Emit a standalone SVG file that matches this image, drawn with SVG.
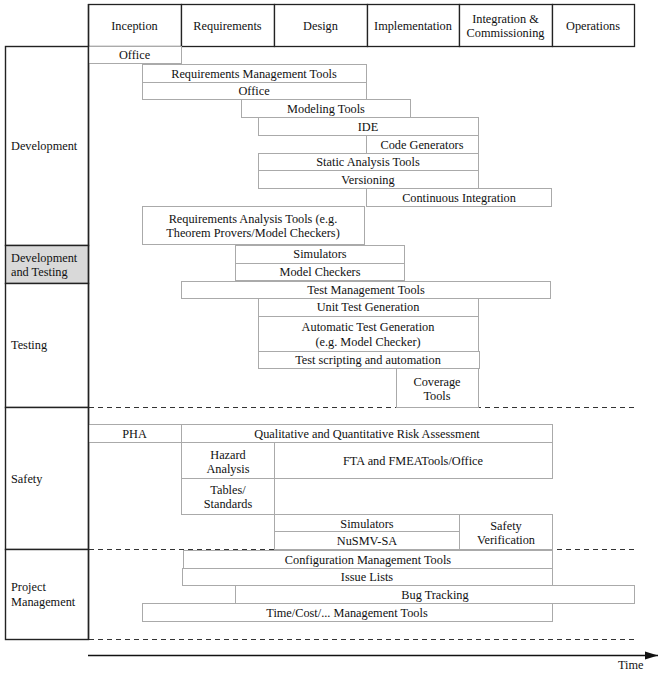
<svg xmlns="http://www.w3.org/2000/svg" width="660" height="674" viewBox="0 0 660 674">
<style>
text{font-family:"Liberation Serif","Times New Roman",serif;font-size:12.3px;fill:#111}
.c{text-anchor:middle}
.bar{fill:#fff;stroke:#aaa;stroke-width:1}
.hd{fill:#fff;stroke:#222;stroke-width:1.3}
.lc{fill:#fff;stroke:#222;stroke-width:1.4}
.dash{stroke:#333;stroke-width:1.1;stroke-dasharray:5,4;fill:none}
</style>
<defs>
<marker id="arr" markerWidth="14" markerHeight="10" refX="13" refY="5" orient="auto" markerUnits="userSpaceOnUse">
<path d="M0,1 L13,5 L0,9 z" fill="#111"/>
</marker>
</defs>

<g id="header">
<rect class="hd" x="88.5" y="4.5" width="93" height="42"/>
<rect class="hd" x="181.5" y="4.5" width="93" height="42"/>
<rect class="hd" x="274.5" y="4.5" width="93" height="42"/>
<rect class="hd" x="367.5" y="4.5" width="92" height="42"/>
<rect class="hd" x="459.5" y="4.5" width="93" height="42"/>
<rect class="hd" x="552.5" y="4.5" width="82" height="42"/>
<text class="c" x="134.5" y="30">Inception</text>
<text class="c" x="227.5" y="30">Requirements</text>
<text class="c" x="320.5" y="30">Design</text>
<text class="c" x="413" y="30">Implementation</text>
<text class="c" x="505.5" y="23">Integration &amp;</text>
<text class="c" x="505.5" y="37">Commissioning</text>
<text class="c" x="593" y="30">Operations</text>
</g>

<g id="lanes">
<rect class="lc" x="5.5" y="46.5" width="83" height="199"/>
<rect class="lc" x="5.5" y="245.5" width="83" height="38" style="fill:#d9d9d9"/>
<rect class="lc" x="5.5" y="283.5" width="83" height="124"/>
<rect class="lc" x="5.5" y="407.5" width="83" height="142"/>
<rect class="lc" x="5.5" y="549.5" width="83" height="90"/>
<text x="11" y="150">Development</text>
<text x="11" y="262">Development</text>
<text x="11" y="276">and Testing</text>
<text x="11" y="349">Testing</text>
<text x="11" y="483">Safety</text>
<text x="11" y="591">Project</text>
<text x="11" y="606">Management</text>
</g>

<g id="connectors">
<line class="dash" x1="89" y1="407.5" x2="634" y2="407.5"/>
<line class="dash" x1="89" y1="549.5" x2="634" y2="549.5"/>
<line class="dash" x1="89" y1="639.5" x2="634" y2="639.5"/>
<line x1="88" y1="655.5" x2="658" y2="655.5" stroke="#111" stroke-width="1.3" marker-end="url(#arr)"/>
<text x="618" y="669">Time</text>
</g>

<g id="n-office1"><rect class="bar" x="88.5" y="46.5" width="93" height="17"/><text class="c" x="134.5" y="59">Office</text></g>
<g id="n-rmt"><rect class="bar" x="142.5" y="64.5" width="224" height="18"/><text class="c" x="254" y="78">Requirements Management Tools</text></g>
<g id="n-office2"><rect class="bar" x="142.5" y="82.5" width="224" height="17"/><text class="c" x="254" y="95">Office</text></g>
<g id="n-modeling"><rect class="bar" x="241.5" y="99.5" width="169" height="18"/><text class="c" x="326" y="113">Modeling Tools</text></g>
<g id="n-ide"><rect class="bar" x="258.5" y="117.5" width="220" height="18"/><text class="c" x="368" y="131">IDE</text></g>
<g id="n-codegen"><rect class="bar" x="366.5" y="135.5" width="112" height="18"/><text class="c" x="422" y="149">Code Generators</text></g>
<g id="n-static"><rect class="bar" x="258.5" y="153.5" width="220" height="17"/><text class="c" x="368" y="166">Static Analysis Tools</text></g>
<g id="n-versioning"><rect class="bar" x="258.5" y="170.5" width="220" height="18"/><text class="c" x="368" y="184">Versioning</text></g>
<g id="n-ci"><rect class="bar" x="366.5" y="188.5" width="185" height="18"/><text class="c" x="459" y="202">Continuous Integration</text></g>
<g id="n-reqanalysis"><rect class="bar" x="142.5" y="206.5" width="222" height="38"/><text class="c" x="253" y="223">Requirements Analysis Tools (e.g.</text><text class="c" x="253" y="237">Theorem Provers/Model Checkers)</text></g>
<g id="n-sim1"><rect class="bar" x="235.5" y="245.5" width="169" height="18"/><text class="c" x="320" y="258">Simulators</text></g>
<g id="n-mc"><rect class="bar" x="235.5" y="263.5" width="169" height="17"/><text class="c" x="320" y="276">Model Checkers</text></g>
<g id="n-testmgmt"><rect class="bar" x="181.5" y="281.5" width="369" height="17"/><text class="c" x="366" y="294">Test Management Tools</text></g>
<g id="n-unittest"><rect class="bar" x="258.5" y="298.5" width="220" height="18"/><text class="c" x="368" y="311">Unit Test Generation</text></g>
<g id="n-autotest"><rect class="bar" x="258.5" y="316.5" width="220" height="35"/><text class="c" x="368" y="331">Automatic Test Generation</text><text class="c" x="368" y="346">(e.g. Model Checker)</text></g>
<g id="n-testscript"><rect class="bar" x="258.5" y="351.5" width="221" height="17"/><text class="c" x="368" y="364">Test scripting and automation</text></g>
<g id="n-coverage"><rect class="bar" x="396.5" y="368.5" width="82" height="39"/><text class="c" x="437" y="386">Coverage</text><text class="c" x="437" y="400">Tools</text></g>

<g id="n-pha"><rect class="bar" x="88.5" y="424.5" width="93" height="18"/><text class="c" x="134.5" y="438">PHA</text></g>
<g id="n-qqra"><rect class="bar" x="181.5" y="424.5" width="371" height="18"/><text class="c" x="367" y="438">Qualitative and Quantitative Risk Assessment</text></g>
<g id="n-hazard"><rect class="bar" x="181.5" y="442.5" width="93" height="36"/><text class="c" x="228" y="459">Hazard</text><text class="c" x="228" y="473">Analysis</text></g>
<g id="n-fta"><rect class="bar" x="274.5" y="442.5" width="278" height="36"/><text class="c" x="413" y="465">FTA and FMEATools/Office</text></g>
<g id="n-tables"><rect class="bar" x="181.5" y="478.5" width="93" height="36"/><text class="c" x="228" y="494">Tables/</text><text class="c" x="228" y="508">Standards</text></g>
<g id="n-sim2"><rect class="bar" x="274.5" y="514.5" width="185" height="17"/><text class="c" x="367" y="528">Simulators</text></g>
<g id="n-nusmv"><rect class="bar" x="274.5" y="531.5" width="185" height="18"/><text class="c" x="367" y="545">NuSMV-SA</text></g>
<g id="n-safetyver"><rect class="bar" x="459.5" y="514.5" width="93" height="35"/><text class="c" x="506" y="530">Safety</text><text class="c" x="506" y="544">Verification</text></g>

<g id="n-config"><rect class="bar" x="183.5" y="550.5" width="369" height="18"/><text class="c" x="368" y="564">Configuration Management Tools</text></g>
<g id="n-issue"><rect class="bar" x="182.5" y="568.5" width="370" height="17"/><text class="c" x="367" y="581">Issue Lists</text></g>
<g id="n-bug"><rect class="bar" x="235.5" y="585.5" width="399" height="18"/><text class="c" x="435" y="599">Bug Tracking</text></g>
<g id="n-timecost"><rect class="bar" x="142.5" y="603.5" width="410" height="18"/><text class="c" x="347" y="617">Time/Cost/... Management Tools</text></g>

<line x1="88.5" y1="4" x2="88.5" y2="640" stroke="#222" stroke-width="1.4"/>
</svg>
